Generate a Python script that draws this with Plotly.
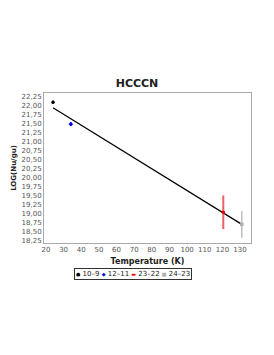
import plotly.graph_objects as go

transitions = ["10–9", "12–11", "23–22", "24–23"]
energy_k = [24.0, 34.1, 120.5, 131.0]
log_nu_gu = [22.10, 21.49, 19.03, 18.69]
errors = [0.05, 0.05, 0.47, 0.37]
colors = ["#000000", "#0000ee", "#f06060", "#b0b0b0"]
symbols = ["circle", "diamond", "circle", "square"]
legend_glyphs = ["●", "◆", "▬", "■"]

fit_x = [24.0, 131.0]
fit_y = [21.95, 18.69]

fig = go.Figure()
fig.add_trace(go.Scatter(x=fit_x, y=fit_y, mode="lines",
                         line=dict(color="#000000", width=1.2), showlegend=False))
for i, name in enumerate(transitions):
    fig.add_trace(go.Scatter(
        x=[energy_k[i]], y=[log_nu_gu[i]], mode="markers", name=name, showlegend=False,
        marker=dict(color=colors[i] if i != 2 else "#ee0000", size=3.5, symbol=symbols[i],
                    line=dict(width=0)),
        error_y=dict(type="data", array=[errors[i]], color=colors[i],
                     thickness=2 if i == 2 else 1.2, width=0),
    ))

legend_text = " ".join(
    f"<span style='color:{colors[i] if i != 2 else '#ee0000'};font-size:5px'>{legend_glyphs[i]}</span> {transitions[i]}"
    for i in range(len(transitions)))
fig.add_annotation(text=legend_text, xref="paper", yref="paper", x=0.43, y=-0.165,
                   xanchor="center", yanchor="top", showarrow=False,
                   bordercolor="#333333", borderwidth=1, borderpad=1,
                   font=dict(size=7, color="#222222", family="DejaVu Sans"))

fig.update_layout(
    width=274, height=355,
    margin=dict(l=44, r=23, t=93, b=112),
    paper_bgcolor="white", plot_bgcolor="white",
    separators=",.",
    showlegend=False,
    font=dict(family="DejaVu Sans", size=7, color="#555555"),
    title=dict(text="<b>HCCCN</b>", x=0.5, xanchor="center", y=0.765, yanchor="middle",
               font=dict(size=11, color="#222222", family="DejaVu Sans")),
    xaxis=dict(range=[18.9, 136.2], tickvals=list(range(20, 131, 10)),
               showgrid=False, zeroline=False, showline=True, linecolor="#aaaaaa",
               linewidth=1, mirror=True, ticks="", automargin=False,
               title=dict(text="<b>Temperature (K)</b>", standoff=4,
                          font=dict(size=8, color="#222222"))),
    yaxis=dict(range=[18.17, 22.36], tickvals=[18.25 + 0.25 * k for k in range(17)],
               tickformat=".2f", automargin=False,
               showgrid=False, zeroline=False, showline=True, linecolor="#aaaaaa",
               linewidth=1, mirror=True, ticks="",
               title=dict(text="<b>LOG(Nu/gu)</b>", standoff=4,
                          font=dict(size=7, color="#222222"))),
)
fig.write_html("out.html", config={"displayModeBar": False},
               post_script="document.body.style.margin='0';")
